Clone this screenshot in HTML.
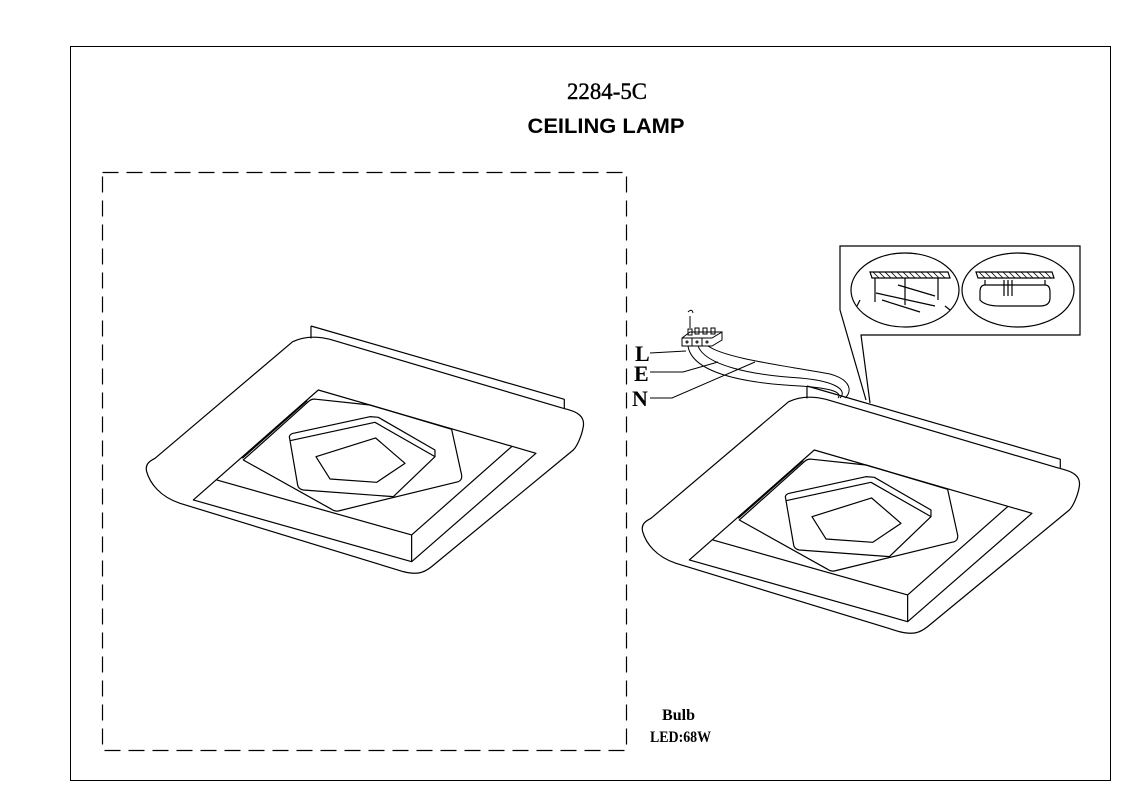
<!DOCTYPE html>
<html><head><meta charset="utf-8"><style>
html,body{margin:0;padding:0;background:#fff;}
svg{display:block;}
</style></head><body>
<svg width="1123" height="793" viewBox="0 0 1123 793" xmlns="http://www.w3.org/2000/svg">
<rect x="0" y="0" width="1123" height="793" fill="#fff"/>
<rect x="70.5" y="46.5" width="1040" height="734" fill="none" stroke="#000" stroke-width="1"/>
<rect x="102.5" y="172.5" width="524" height="578" fill="none" stroke="#000" stroke-width="1.2" stroke-dasharray="16,8"/>
<text x="607" y="99" font-family="Liberation Serif, serif" font-size="23" text-anchor="middle" stroke="#000" stroke-width="0.4" textLength="80" lengthAdjust="spacingAndGlyphs">2284-5C</text>
<text x="606" y="133" font-family="Liberation Sans, sans-serif" font-weight="bold" font-size="21" text-anchor="middle" textLength="157" lengthAdjust="spacingAndGlyphs">CEILING LAMP</text>
<text x="662" y="720" font-family="Liberation Serif, serif" font-weight="bold" font-size="16" textLength="33" lengthAdjust="spacingAndGlyphs">Bulb</text>
<text x="650" y="742" font-family="Liberation Serif, serif" font-weight="bold" font-size="16" textLength="61" lengthAdjust="spacingAndGlyphs">LED:68W</text>

<defs>
<g id="lamp" fill="none" stroke="#000" stroke-width="3.6" stroke-linejoin="round">
  <path d="M543,48 L543,85 M543,48 L1303,268 L1303,295"/>
  <path d="M600,88 L1300,295"/>
  <path d="M488,95 C520,80 560,78 600,88 M1300,295 C1345,305 1365,320 1360,350 C1355,380 1340,410 1330,420 L905,770 C880,790 860,795 820,785 L150,580 C90,560 60,520 50,485 C45,465 55,455 75,445 L488,95"/>
  <path d="M190,570 L565,240 L1218,430 L845,755 Z"/>
  <path d="M260,510 L845,675 L1145,410 M845,675 L845,755"/>
  <path d="M340,450 L535,275 Q545,265 560,268 L720,285 L965,358 L995,495 Q997,510 985,515 L625,603 Q615,605 605,598 Z"/>
  <path d="M337,445 L532,272"/>
  <path d="M478,380 Q480,372 490,370 L720,320 L745,322 L915,420 L915,440 L790,560 L520,540 Q505,537 503,525 Z"/>
  <path d="M480,392 L735,337 L915,440"/>
  <path d="M558,440 L737,384 L825,460 L740,517 L600,507 Z"/>
</g>
</defs>
<use href="#lamp" transform="translate(130,310) scale(0.3333)"/>
<use href="#lamp" transform="translate(626,370) scale(0.3333)"/>

<g fill="none" stroke="#000" stroke-width="1">
  <path d="M688,346 C692,372 740,383 800,386 C830,388 843,392 838,398"/>
  <path d="M698,346 C705,365 750,375 800,378 C835,381 848,390 840,398"/>
  <path d="M708,346 C725,358 780,365 830,374 C852,380 852,392 845,398"/>
  <path d="M682,338 L712,338 L722,332 L722,340 L712,346 L682,346 Z M682,338 L690,332 L722,332 M692,338 L692,346 M702,338 L702,346"/>
  <rect x="688" y="329" width="4" height="6"/><rect x="695" y="328" width="4" height="6"/><rect x="703" y="328" width="4" height="6"/><rect x="711" y="328" width="4" height="6"/>
  <path d="M690,316 L690,328 M688,312 Q692,308 693,313"/>
  <circle cx="687" cy="342" r="1"/><circle cx="697" cy="342" r="1"/><circle cx="707" cy="342" r="1"/>
  <path d="M650,353 L686,351"/>
  <path d="M650,372 L683,372 L718,362"/>
  <path d="M650,398 L672,398 L755,362"/>
</g>
<text x="635" y="361" font-family="Liberation Serif, serif" font-weight="bold" font-size="22">L</text>
<text x="634" y="381" font-family="Liberation Serif, serif" font-weight="bold" font-size="22">E</text>
<text x="632" y="406" font-family="Liberation Serif, serif" font-weight="bold" font-size="22">N</text>

<g fill="none" stroke="#000" stroke-width="1.2">
  <path d="M840,310 L840,246 L1080,246 L1080,335 L861,335 L870,403 M840,310 L866,400"/>
  <ellipse cx="905" cy="290" rx="54" ry="37"/>
  <ellipse cx="1018" cy="290" rx="56" ry="37"/>
  <path d="M870,272 L948,272 L950,278 L872,278 Z" fill="#fff"/>
  <path d="M976,272 L1052,272 L1054,278 L978,278 Z"/>
  <path d="M876,293 L935,306 M882,300 L920,312 M898,285 L935,296 M875,278 L875,302 M905,278 L905,305 M938,278 L938,300 M860,300 L857,306 M945,306 L950,310"/>
  <path d="M985,285 Q980,285 980,292 L980,300 Q985,306 1000,306 L1040,306 Q1050,306 1050,298 L1050,292 Q1050,285 1045,285 Z"/>
  <path d="M1004,280 L1004,296 M1008,280 L1008,296 M1012,280 L1012,296 M985,280 L985,285 M1045,280 L1045,285"/>
</g>
<g stroke="#000" stroke-width="0.8">
  <path d="M873,272 L879,278 M879,272 L885,278 M885,272 L891,278 M891,272 L897,278 M897,272 L903,278 M903,272 L909,278 M909,272 L915,278 M915,272 L921,278 M921,272 L927,278 M927,272 L933,278 M933,272 L939,278 M939,272 L945,278"/>
  <path d="M979,272 L985,278 M985,272 L991,278 M991,272 L997,278 M997,272 L1003,278 M1003,272 L1009,278 M1009,272 L1015,278 M1015,272 L1021,278 M1021,272 L1027,278 M1027,272 L1033,278 M1033,272 L1039,278 M1039,272 L1045,278 M1045,272 L1051,278"/>
</g>
</svg>
</body></html>
